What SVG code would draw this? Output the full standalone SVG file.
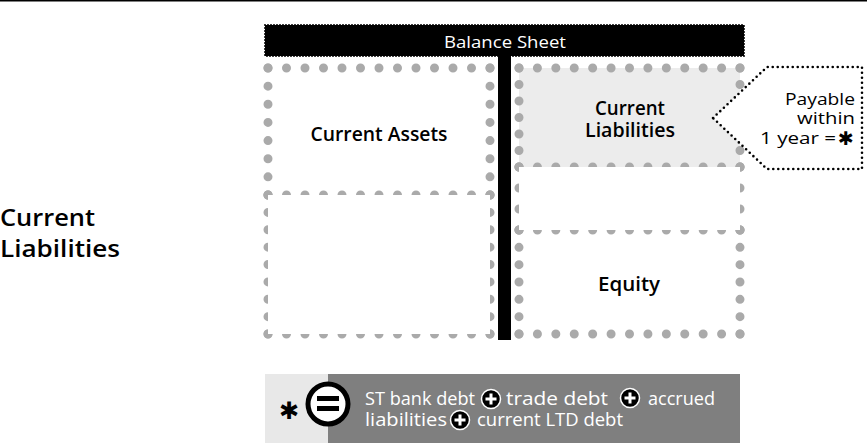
<svg xmlns="http://www.w3.org/2000/svg" width="867" height="445" viewBox="0 0 867 445">
<style>
.lbl{font-family:"Open Sans","Noto Sans","DejaVu Sans",sans-serif;font-weight:600;fill:#000}
.cal{font-family:"Open Sans","Noto Sans","DejaVu Sans",sans-serif;font-weight:500;fill:#000;font-size:17px}
.wt{font-family:"Open Sans","Noto Sans","DejaVu Sans",sans-serif;font-weight:500;fill:#fff}
.d{fill:none;stroke:#aaaaaa;stroke-width:9;stroke-linecap:round}
.plus circle{fill:#000;stroke:#fff;stroke-width:1.5}
.plus path{stroke:#fff;stroke-width:3;fill:none}
</style>
<defs>
<g id="pl" class="plus"><circle cx="0" cy="0" r="9.5"/><path d="M-5.5 0H5.5M0 -5.5V5.5"/></g>
</defs>
<rect width="867" height="445" fill="#fff"/>
<line x1="0" y1="0.5" x2="867" y2="0.5" stroke="#000" stroke-width="2"/>

<g id="left-title">
<text class="lbl" x="0" y="226" font-size="24" font-weight="700" textLength="95" lengthAdjust="spacingAndGlyphs">Current</text>
<text class="lbl" x="0" y="257" font-size="24" font-weight="700" textLength="120" lengthAdjust="spacingAndGlyphs">Liabilities</text>
</g>

<g id="header">
<rect x="265" y="25" width="479" height="31" fill="#000" stroke="#000" stroke-width="2" stroke-dasharray="0 3" stroke-linecap="round"/>
<text class="wt" x="505" y="48" font-size="17" text-anchor="middle" textLength="122" lengthAdjust="spacingAndGlyphs">Balance Sheet</text>
</g>

<g id="current-liabilities-fill">
<rect x="519" y="68" width="221" height="99" fill="#ececec"/>
</g>

<g id="current-assets">
<path class="d" d="M268 68H490.1" stroke-dasharray="0 18.5"/>
<path class="d" d="M268 195H490.1" stroke-dasharray="0 18.5"/>
<path class="d" d="M268 68V195.1" stroke-dasharray="0 18.143"/>
<path class="d" d="M490 68V195.1" stroke-dasharray="0 18.143"/>
<text class="lbl" x="379" y="141" font-size="19" text-anchor="middle" textLength="137" lengthAdjust="spacingAndGlyphs">Current Assets</text>
</g>

<g id="fixed-assets">
<path class="d" d="M268 334H490.1" stroke-dasharray="0 18.5"/>
<path class="d" d="M268 195V334.1" stroke-dasharray="0 17.375"/>
<path class="d" d="M490 195V334.1" stroke-dasharray="0 17.375"/>
<rect x="268" y="195" width="222" height="139" fill="#fff"/>
</g>

<g id="current-liabilities">
<path class="d" d="M519 68H740.1" stroke-dasharray="0 18.417"/>
<path class="d" d="M519 167H740.1" stroke-dasharray="0 18.417"/>
<path class="d" d="M519 68V167.1" stroke-dasharray="0 16.5"/>
<path class="d" d="M740 68V167.1" stroke-dasharray="0 16.5"/>
</g>

<g id="equity">
<path class="d" d="M519 230H740.1" stroke-dasharray="0 18.417"/>
<path class="d" d="M519 334H740.1" stroke-dasharray="0 18.417"/>
<path class="d" d="M519 230V334.1" stroke-dasharray="0 17.333"/>
<path class="d" d="M740 230V334.1" stroke-dasharray="0 17.333"/>
<text class="lbl" x="629" y="291" font-size="19" text-anchor="middle" textLength="62" lengthAdjust="spacingAndGlyphs">Equity</text>
</g>

<g id="long-term-debt">
<path class="d" d="M519 167V230.1" stroke-dasharray="0 21"/>
<path class="d" d="M740 167V230.1" stroke-dasharray="0 21"/>
<rect x="519" y="167" width="221" height="63" fill="#fff"/>
</g>

<g id="current-liabilities-label">
<text class="lbl" x="630" y="115" font-size="19" text-anchor="middle" textLength="70" lengthAdjust="spacingAndGlyphs">Current</text>
<text class="lbl" x="630" y="137" font-size="19" text-anchor="middle" textLength="90" lengthAdjust="spacingAndGlyphs">Liabilities</text>
</g>

<g id="divider">
<rect x="498" y="56" width="13" height="284" fill="#000"/>
</g>

<g id="callout">
<polygon points="713,118 767,67 862,67 862,169 767,169" fill="#fff" stroke="#000" stroke-width="2.6" stroke-dasharray="0 5" stroke-linecap="round"/>
<text class="cal" x="855" y="105" text-anchor="end" textLength="70" lengthAdjust="spacingAndGlyphs">Payable</text>
<text class="cal" x="855" y="124" text-anchor="end" textLength="58" lengthAdjust="spacingAndGlyphs">within</text>
<text class="cal" x="836" y="144" text-anchor="end" textLength="76" lengthAdjust="spacingAndGlyphs">1 year =</text>
<text x="846" y="145" font-size="19" font-weight="bold" text-anchor="middle" font-family="DejaVu Sans, sans-serif">✱</text>
</g>

<g id="formula">
<rect x="265" y="374" width="66" height="69" fill="#e8e8e8"/>
<rect x="328" y="374" width="412" height="69" fill="#7f7f7f"/>
<text x="289" y="419" font-size="24" font-weight="bold" text-anchor="middle" font-family="DejaVu Sans, sans-serif">✱</text>
<circle cx="328" cy="404" r="20" fill="#fff" stroke="#000" stroke-width="5"/>
<rect x="317" y="396" width="22" height="5" fill="#000"/>
<rect x="317" y="406" width="22" height="5" fill="#000"/>
<text class="wt" x="365" y="405" font-size="17.5" textLength="110" lengthAdjust="spacingAndGlyphs">ST bank debt</text>
<use href="#pl" x="491" y="399"/>
<text class="wt" x="506" y="405" font-size="17.5" textLength="102" lengthAdjust="spacingAndGlyphs">trade debt</text>
<use href="#pl" x="630" y="398"/>
<text class="wt" x="648" y="405" font-size="17.5" textLength="67" lengthAdjust="spacingAndGlyphs">accrued</text>
<text class="wt" x="365" y="426" font-size="17.5" textLength="82" lengthAdjust="spacingAndGlyphs">liabilities</text>
<use href="#pl" x="460" y="420"/>
<text class="wt" x="477" y="426" font-size="17.5" textLength="146" lengthAdjust="spacingAndGlyphs">current LTD debt</text>
</g>

<g id="connectors"/>
</svg>
